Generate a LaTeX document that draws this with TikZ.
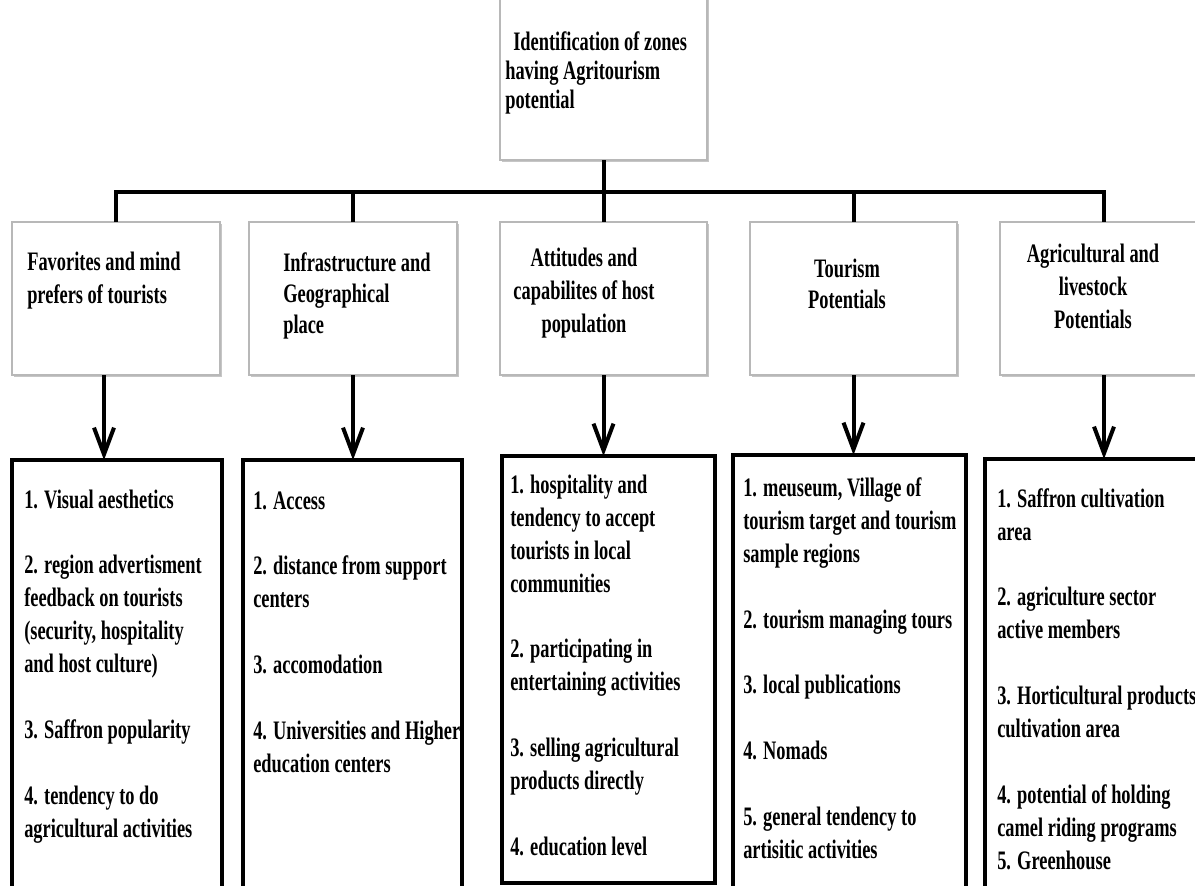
\documentclass[tikz,border=0pt]{standalone}
\usepackage{fontspec}
\newfontfamily\diagfont[FakeStretch=0.69]{Liberation Serif}
\usetikzlibrary{arrows.meta}
\usetikzlibrary{shadows}
\usetikzlibrary{calc}

\tikzset{
  hdrbox/.style={draw=black!28, line width=1.2pt, fill=white,
    drop shadow={shadow xshift=1.8pt, shadow yshift=-1.8pt, fill=black!50, opacity=0.45},
    anchor=north west, inner sep=0pt, outer sep=0pt,
    minimum width=156pt, minimum height=114.75pt},
  itembox/.style={draw=black, line width=2.8pt, anchor=north west, inner sep=0pt, outer sep=0pt},
  conn/.style={line width=3pt},
  arr/.style={line width=3pt, -{Straight Barb[length=20pt,width=15pt]}},
  txt/.style={font=\diagfont\bfseries\fontsize{20pt}{#1}\selectfont, align=left, anchor=base west, inner sep=0pt},
  txt/.default=24.75pt,
  ctxt/.style={txt=#1, align=center, anchor=base},
}

\begin{document}
\begin{tikzpicture}[x=0.75pt,y=0.75pt,yscale=-1,xscale=1]
  \useasboundingbox (0,0) rectangle (1195,885);
  \begin{scope}
  \clip (0,0) rectangle (1195,885);
  % Top box
  \node (top) [hdrbox, minimum width=155.25pt, minimum height=123.75pt] at (500,-5) {};
  % Header boxes
  \node (h1) [hdrbox] at (12,222) {};
  \node (h2) [hdrbox] at (249,222) {};
  \node (h3) [hdrbox, minimum width=155.25pt] at (500,222) {};
  \node (h4) [hdrbox, minimum width=155.25pt] at (750,222) {};
  \node (h5) [hdrbox] at (1000,222) {};
  % Item boxes
  \node (b1) [itembox, minimum width=157.5pt, minimum height=330pt] at (12,460) {};
  \node (b2) [itembox, minimum width=164.25pt, minimum height=330pt] at (243,460) {};
  \node (b3) [itembox, minimum width=159.75pt, minimum height=320.25pt] at (502,456) {};
  \node (b4) [itembox, minimum width=174.75pt, minimum height=333.75pt] at (733,455) {};
  \node (b5) [itembox, minimum width=172.5pt, minimum height=330.75pt] at (985,459) {};

  % Connectors
  \coordinate (bus) at (0,192);
  \draw [conn] (top.south) -- (h3.north);
  \draw [conn] (h1.north) -- (h1.north |- bus) -- (h5.north |- bus) -- (h5.north);
  \draw [conn] (h2.north) -- (h2.north |- bus);
  \draw [conn] (h4.north) -- (h4.north |- bus);
  % Arrows
  \draw [arr] ([xshift=-9pt]h1.south) -- ([xshift=-9pt]h1.south |- b1.north);
  \draw [arr] (h2.south) -- (h2.south |- b2.north);
  \draw [arr] (h3.south) -- (h3.south |- b3.north);
  \draw [arr] (h4.south) -- (h4.south |- b4.north);
  \draw [arr] (h5.south) -- (h5.south |- b5.north);

  % Text Node (placed at the baseline of the last line)
  \node (ttop) [txt=21.75pt] at (505,108) {\hspace*{6pt}Identification of zones\\having Agritourism\\potential};
  % Text Node
  \node (th1) [txt] at (27,303) {Favorites and mind\\prefers of tourists};
  % Text Node
  \node (th2) [txt=23.25pt] at (283,333) {Infrastructure and\\Geographical\\place};
  % Text Node
  \node (th3) [ctxt=24.75pt] at (584,332) {Attitudes and\\capabilites of host\\population};
  % Text Node
  \node (th4) [ctxt=23.25pt] at (847,308) {Tourism\\Potentials};
  % Text Node
  \node (th5) [ctxt=24.75pt] at (1093,328) {Agricultural and\\livestock\\Potentials};

  % Text Node
  \node (tb1) [txt] at (24,837) {1. Visual aesthetics\\[24.4pt]2. region advertisment\\feedback on tourists\\(security, hospitality\\and host culture)\\[24.4pt]3. Saffron popularity\\[24.4pt]4. tendency to do\\agricultural activities};
  % Text Node
  \node (tb2) [txt] at (253,772) {1. Access\\[24.4pt]2. distance from support\\centers\\[24.4pt]3. accomodation\\[24.4pt]4. Universities and Higher\\education centers};
  % Text Node
  \node (tb3) [txt] at (510,855) {1. hospitality and\\tendency to accept\\tourists in local\\communities\\[24.4pt]2. participating in\\entertaining activities\\[24.4pt]3. selling agricultural\\products directly\\[24.4pt]4. education level};
  % Text Node
  \node (tb4) [txt] at (743,858) {1. meuseum, Village of\\tourism target and tourism\\sample regions\\[24.4pt]2. tourism managing tours\\[24.4pt]3. local publications\\[24.4pt]4. Nomads\\[24.4pt]5. general tendency to\\artisitic activities};
  % Text Node
  \node (tb5) [txt] at (997,869) {1. Saffron cultivation\\area\\[24.4pt]2. agriculture sector\\active members\\[24.4pt]3. Horticultural products\\cultivation area\\[24.4pt]4. potential of holding\\camel riding programs\\5. Greenhouse};
  \end{scope}
\end{tikzpicture}
\end{document}
